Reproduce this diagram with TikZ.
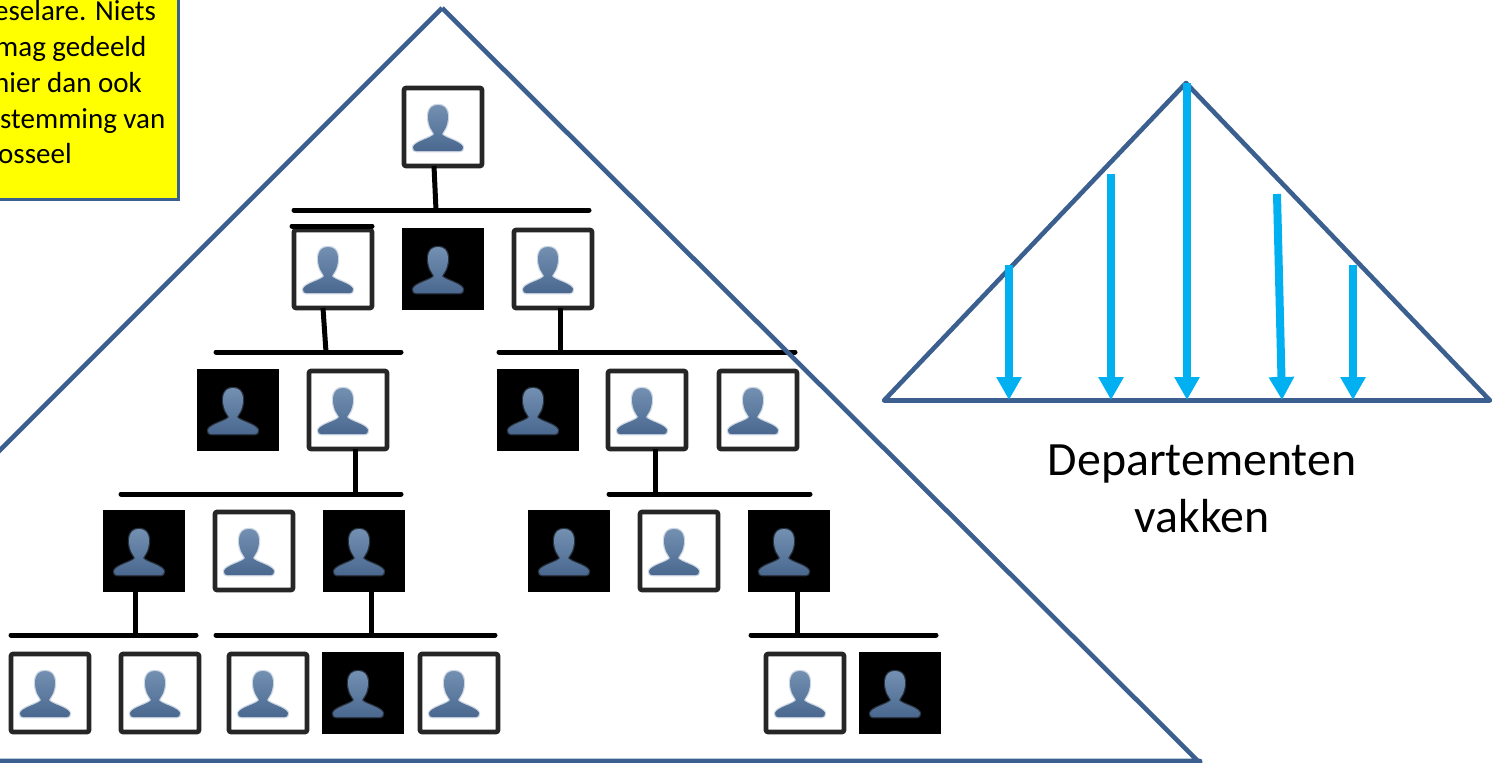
\documentclass[tikz,border=0pt]{standalone}
\usepackage{fontspec}
\setmainfont{Carlito}
\usetikzlibrary{arrows.meta}
\definecolor{triblue}{HTML}{3B5F8F}
\definecolor{arrowcyan}{HTML}{00B0F0}
\definecolor{iconlight}{HTML}{7390B2}
\definecolor{icondark}{HTML}{4A688F}
\definecolor{noteyellow}{HTML}{FFFF00}
\tikzset{
  x=1pt,y=-1pt,
  tri/.style={draw=triblue,line width=4.6pt,line join=round},
  photow/.style={draw=black!85,line width=4.6pt,rounded corners=2pt,fill=white,minimum width=78pt,minimum height=78pt,inner sep=0pt,outer sep=0pt},
  photob/.style={draw=black,line width=2pt,fill=black,minimum width=80pt,minimum height=80pt,inner sep=0pt,outer sep=0pt},
  orgbar/.style={draw=black,line width=5pt,line cap=round},
  orglink/.style={draw=black,line width=5pt},
  fall/.style={draw=arrowcyan,line width=8pt,-{Triangle[width=24pt,length=23pt]}},
  notebox/.style={draw=triblue,line width=3pt,fill=noteyellow},
  notetext/.style={anchor=base west,inner sep=0pt,font=\fontsize{29}{29}\selectfont},
  bigtext/.style={anchor=base,inner sep=0pt,font=\fontsize{47.8}{47.8}\selectfont},
  person/.pic={
    \path[draw=iconlight,opacity=.35,line width=2.5pt,line join=round]
      (-4,7) .. controls (-5,4) and (-8,2) .. (-9,-3)
      .. controls (-11,-10) and (-11,-22) .. (0,-22)
      .. controls (11,-22) and (11,-10) .. (9,-3)
      .. controls (8,2) and (5,4) .. (4,7)
      .. controls (6,11) and (23,14) .. (25,20)
      .. controls (25,23) and (24,24) .. (22,24)
      -- (-22,24)
      .. controls (-24,24) and (-25,23) .. (-25,20)
      .. controls (-23,14) and (-6,11) .. (-4,7) -- cycle;
    \shade[top color=iconlight,bottom color=icondark,line join=round]
      (-4,7) .. controls (-5,4) and (-8,2) .. (-9,-3)
      .. controls (-11,-10) and (-11,-22) .. (0,-22)
      .. controls (11,-22) and (11,-10) .. (9,-3)
      .. controls (8,2) and (5,4) .. (4,7)
      .. controls (6,11) and (23,14) .. (25,20)
      .. controls (25,23) and (24,24) .. (22,24)
      -- (-22,24)
      .. controls (-24,24) and (-25,23) .. (-25,20)
      .. controls (-23,14) and (-6,11) .. (-4,7) -- cycle;
  }
}
\begin{document}
\begin{tikzpicture}
\useasboundingbox (0,0) rectangle (1494,763);
\clip (0,0) rectangle (1494,763);
% row 1
\node[photow] (a1) at (443,127) {};
% row 2
\node[photow] (b1) at (333,269) {};
\node[photob] (b2) at (443,269) {};
\node[photow] (b3) at (553,269) {};
% row 3
\node[photob] (c1) at (238,410) {};
\node[photow] (c2) at (348,410) {};
\node[photob] (c3) at (538,410) {};
\node[photow] (c4) at (647,410) {};
\node[photow] (c5) at (758,410) {};
% row 4
\node[photob] (d1) at (144,551) {};
\node[photow] (d2) at (254,551) {};
\node[photob] (d3) at (364,551) {};
\node[photob] (d4) at (569,551) {};
\node[photow] (d5) at (679,551) {};
\node[photob] (d6) at (789,551) {};
% row 5
\node[photow] (e1) at (50,693) {};
\node[photow] (e2) at (160,693) {};
\node[photow] (e3) at (268,693) {};
\node[photob] (e4) at (363,693) {};
\node[photow] (e5) at (459,693) {};
\node[photow] (e6) at (805,693) {};
\node[photob] (e7) at (900,693) {};
\foreach \n in {a1,b1,b2,b3,c1,c2,c3,c4,c5,d1,d2,d3,d4,d5,d6,e1,e2,e3,e4,e5,e6,e7}
  \pic at ([xshift=-5pt]\n.center) {person};
% bars
\coordinate (ba) at (436,210);
\coordinate (bbl) at (326,352);
\coordinate (bbr) at (560,352);
\coordinate (bcl) at (355,494);
\coordinate (bcr) at (655,494);
\coordinate (bdl) at (135,635);
\coordinate (bdm) at (371,635);
\coordinate (bdr) at (797,635);
\draw[orgbar] (294,210) -- (589,210);
\draw[orgbar] (292,226) -- (372,226);
\draw[orgbar] (216,352) -- (401,352);
\draw[orgbar] (499,352) -- (795,352);
\draw[orgbar] (121,494) -- (401,494);
\draw[orgbar] (609,494) -- (810,494);
\draw[orgbar] (11,635) -- (196,635);
\draw[orgbar] (216,635) -- (495,635);
\draw[orgbar] (751,635) -- (936,635);
% links
\draw[orglink] ([xshift=-9pt]a1.south) -- (ba);
\draw[orglink] ([xshift=-10pt]b1.south) -- (bbl);
\draw[orglink] ([xshift=7pt]b3.south) -- (bbr);
\draw[orglink] ([xshift=7pt]c2.south) -- (bcl);
\draw[orglink] ([xshift=8pt]c4.south) -- (bcr);
\draw[orglink] ([xshift=-9pt]d1.south) -- (bdl);
\draw[orglink] ([xshift=7pt]d3.south) -- (bdm);
\draw[orglink] ([xshift=8pt]d6.south) -- (bdr);
% big triangle
\draw[tri] (442,8) -- (1200,763) -- (1200,761) -- (-10,761) (442,8) -- (-10,460);
% note
\draw[notebox] (-10,-10) rectangle (178,199);
\node[notetext] (n1) at (-6,20) {eselare. Niets};
\node[notetext] (n2) at (-5,56) {mag gedeeld};
\node[notetext] (n3) at (-6,92) {hier dan ook};
\node[notetext] (n4) at (0,128) {stemming van};
\node[notetext] (n5) at (-2,163) {osseel};
% small triangle
\draw[tri] (1186,83) -- (1490,400.5) -- (884,400.5) -- cycle;
\coordinate (s1) at (1009,265); \coordinate (t1) at (1009,400);
\coordinate (s2) at (1111,174); \coordinate (t2) at (1111,400);
\coordinate (s3) at (1187,83);  \coordinate (t3) at (1187,400);
\coordinate (s4) at (1277,194); \coordinate (t4) at (1282,400);
\coordinate (s5) at (1353,265); \coordinate (t5) at (1353,400);
\draw[fall] (s1) -- (t1);
\draw[fall] (s2) -- (t2);
\draw[fall] (s3) -- (t3);
\draw[fall] (s4) -- (t4);
\draw[fall] (s5) -- (t5);
\node[bigtext] (l1) at (1202,475) {Departementen};
\node[bigtext] (l2) at (1202,532) {vakken};
\end{tikzpicture}
\end{document}
